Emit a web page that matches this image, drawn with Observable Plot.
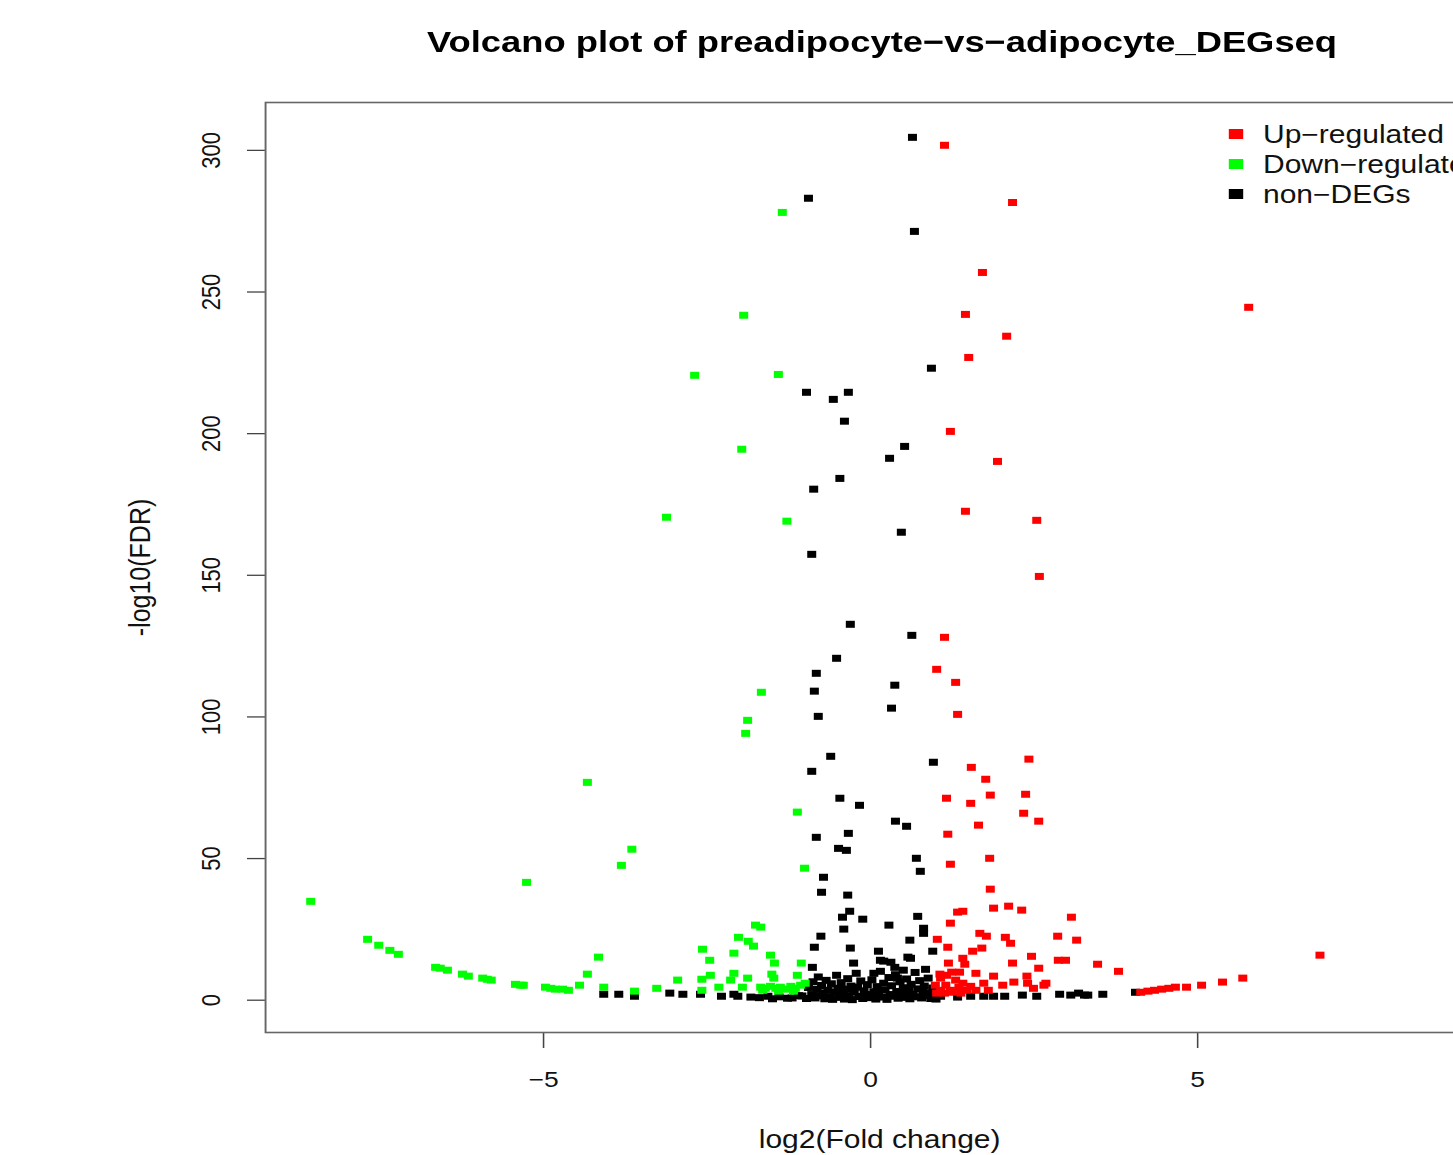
<!DOCTYPE html>
<html>
<head>
<meta charset="utf-8">
<script src="https://cdn.jsdelivr.net/npm/d3@7"></script>
<script src="https://cdn.jsdelivr.net/npm/@observablehq/plot@0.6"></script>
<style>
  html, body { margin: 0; padding: 0; background: #fff; overflow: hidden; width: 1453px; height: 1155px; }
  #wrap { position: relative; width: 1260px; transform: scaleX(1.2); transform-origin: 0 0; font-family: "Liberation Sans", Arial, Helvetica, sans-serif; }
  #title { position: relative; height: 80px; }
  #title span { position: absolute; white-space: nowrap; font-weight: bold; font-size: 30px; line-height: 40px; top: 22px; left: 735px; transform-origin: center; }
  .leg { position: absolute; white-space: nowrap; }
  .leg .sw { position: absolute; width: 11.5px; height: 10.5px; }
  .leg .tx { position: absolute; font-size: 25px; line-height: 30px; }
</style>
</head>
<body>
<div id="wrap">
  <div id="title"><span id="titleText">Volcano plot of preadipocyte−vs−adipocyte_DEGseq</span></div>
  <div id="chart"></div>
  <div id="legend"></div>
</div>
<script>
// ---- data (log2 fold change, -log10 FDR) ----
const upRegulated = [
  [1.13,301.8],[2.17,281.6],[1.71,256.9],[5.78,244.6],[1.45,242.1],[2.08,234.4],[1.50,226.9],
  [1.22,200.8],[1.94,190.2],[1.45,172.6],[2.54,169.4],[2.58,149.6],[1.13,128.1],[1.01,116.8],
  [1.30,112.2],[1.33,100.9],[2.42,85.1],[1.54,82.2],[1.76,78.0],[1.16,71.3],[1.53,69.5],
  [1.83,72.4],[2.37,72.7],[2.34,66.0],[2.57,63.2],[1.65,61.8],[1.18,58.6],[1.82,50.1],
  [1.22,48.0],[1.83,39.2],[1.88,32.5],[2.11,33.2],[2.31,31.8],[1.33,31.1],[1.41,31.4],
  [3.07,29.3],[1.22,27.2],[2.86,22.6],[3.15,21.2],[1.02,21.5],[1.18,18.7],[1.67,23.6],
  [1.77,22.6],[2.06,22.2],[2.14,20.1],[1.56,17.3],[1.70,18.4],[1.41,14.8],[1.44,12.7],
  [1.19,13.1],[1.24,9.9],[1.06,9.2],[1.36,9.9],[1.61,9.5],[1.88,8.5],[2.17,13.1],[2.46,15.5],
  [2.57,11.3],[2.39,8.5],[2.87,14.1],[2.98,14.1],[3.47,12.7],[3.79,10.2],[1.73,6.0],[1.80,3.5],
  [2.02,5.3],[2.19,6.4],[2.40,6.0],[2.49,4.2],[2.65,5.3],[2.68,6.0],
  [1.07,7.8],[1.15,5.3],[1.22,3.5],[1.30,7.1],[1.35,4.6],[1.41,6.0],[1.47,3.5],[1.07,3.5],
  [0.99,5.3],[1.16,8.8],[1.53,4.9],[1.25,2.8],[1.13,2.5],[1.38,2.5],[1.01,2.5],[1.61,3.5],
  [4.13,2.8],[4.24,3.2],[4.34,3.5],[4.45,3.9],[4.56,4.2],[4.66,4.6],[4.83,4.6],[5.06,5.3],
  [5.38,6.4],[5.69,7.8],[6.87,15.9]
];
const downRegulated = [
  [-1.35,278.1],[-1.94,241.8],[-2.69,220.6],[-1.41,220.9],[-1.97,194.5],[-3.12,170.5],
  [-1.28,169.1],[-1.67,108.7],[-1.88,98.8],[-1.91,94.2],[-4.33,76.9],[-1.12,66.4],
  [-3.65,53.3],[-3.81,47.6],[-1.01,46.6],[-5.26,41.6],[-8.56,34.9],[-7.69,21.5],[-7.52,19.4],
  [-7.35,17.6],[-7.22,16.2],[-6.65,11.6],[-6.58,11.3],[-6.47,10.6],[-6.24,9.2],[-6.15,8.5],
  [-5.93,7.8],[-5.86,7.4],[-5.80,7.1],[-5.43,5.6],[-5.35,5.3],[-5.31,5.3],[-4.97,4.6],
  [-4.89,4.2],[-4.82,3.9],[-4.71,3.9],[-4.62,3.5],[-4.45,5.3],[-4.33,9.2],[-4.16,15.2],
  [-4.08,4.6],[-3.61,3.2],[-3.27,4.2],[-2.95,7.1],[-2.57,18.0],[-2.46,14.1],[-2.58,7.4],
  [-2.45,8.8],[-2.58,3.5],[-2.32,4.6],[-2.09,16.6],[-2.02,22.2],[-1.87,20.8],[-1.79,19.1],
  [-1.76,26.5],[-1.68,25.8],[-2.09,9.5],[-2.14,7.1],[-1.88,7.8],[-1.96,4.6],[-1.53,15.9],
  [-1.47,13.1],[-1.51,9.2],[-1.48,7.8],[-1.12,8.8],[-1.06,13.1],
  [-1.68,4.6],[-1.61,4.2],[-1.53,4.9],[-1.45,4.2],[-1.38,4.6],[-1.30,3.9],[-1.22,4.9],
  [-1.15,4.2],[-1.07,5.3],[-1.00,6.0],[-1.65,3.5],[-1.41,3.2],[-1.18,3.2]
];
const nonDEGs = [
  [0.64,304.6],[-0.95,283.1],[0.67,271.4],[0.93,223.1],[-0.98,214.6],[-0.34,214.6],[-0.57,212.1],
  [-0.40,204.4],[0.52,195.5],[0.29,191.3],[-0.47,184.2],[-0.87,180.4],[0.47,165.2],[-0.90,157.4],
  [-0.31,132.7],[0.63,128.8],[-0.52,120.7],[-0.83,115.4],[0.37,111.2],[-0.86,109.1],[0.32,103.1],
  [-0.80,100.2],[-0.61,86.1],[0.96,84.0],[-0.90,80.8],[-0.47,71.3],[-0.17,68.8],[0.38,63.2],
  [0.55,61.4],[-0.83,57.5],[-0.34,58.9],[-0.49,53.6],[-0.37,52.9],[0.70,50.1],[0.76,45.5],
  [-0.72,43.4],[-0.75,38.1],[-0.35,37.1],[-0.43,29.3],[-0.32,31.4],[-0.41,25.1],[-0.12,28.6],
  [0.28,26.5],[0.72,29.6],[0.81,25.4],[0.81,23.6],[0.60,21.2],[-0.89,11.6],[-0.86,18.7],
  [-0.76,22.6],[-0.31,18.4],[-0.26,13.1],[0.12,17.3],[0.15,14.1],[0.20,13.8],[0.31,13.4],
  [0.37,11.6],[0.57,15.2],[0.95,17.3],[0.84,10.9],[0.05,9.5],[0.41,7.8],[0.50,10.6],[0.61,14.8],
  [-4.08,2.1],[-3.85,2.1],[-3.61,1.4],[-3.07,2.5],[-2.87,2.1],[-2.60,2.1],[-2.28,1.4],[-2.09,2.1],
  [-2.03,1.4],[-1.83,1.1],[-1.57,1.4],[-1.27,0.7],[1.07,1.4],[1.33,1.1],[1.53,1.4],[1.73,1.4],
  [1.88,1.4],[2.05,1.4],[2.32,1.8],[2.54,1.4],[2.89,2.1],[3.06,1.8],[3.18,2.5],[3.27,1.8],
  [3.32,1.8],[3.55,2.1],[4.05,2.8],
  [-0.95,4.5],[-0.90,2.0],[-0.88,6.5],[-0.85,0.8],[-0.82,3.8],[-0.80,8.2],[-0.78,1.5],[-0.75,5.2],
  [-0.72,2.6],[-0.70,0.5],[-0.68,7.0],[-0.65,3.5],[-0.62,1.2],[-0.60,5.8],[-0.58,0.3],[-0.55,2.8],
  [-0.52,8.8],[-0.50,4.2],[-0.48,1.0],[-0.45,6.2],[-0.42,2.2],[-0.40,0.4],[-0.38,3.9],[-0.35,7.6],
  [-0.33,1.6],[-0.30,5.0],[-0.28,0.2],[-0.25,2.9],[-0.22,9.5],[-0.20,4.6],[-0.18,1.3],[-0.15,6.8],
  [-0.12,0.6],[-0.10,3.3],[-0.08,2.0],[-0.05,5.5],[-0.03,0.9],[0.00,1.8],[0.02,7.2],[0.05,3.0],
  [0.08,0.4],[0.10,4.8],[0.12,2.4],[0.15,10.2],[0.18,1.1],[0.20,6.0],[0.22,3.6],[0.25,0.3],
  [0.28,8.0],[0.30,2.0],[0.32,5.1],[0.35,1.4],[0.38,9.0],[0.40,3.1],[0.42,0.7],[0.45,6.5],
  [0.48,2.6],[0.50,4.4],[0.52,1.0],[0.55,7.5],[0.58,3.4],[0.60,0.5],[0.62,5.6],[0.65,2.1],
  [0.68,9.8],[0.70,1.2],[0.72,4.0],[0.75,6.9],[0.78,0.8],[0.80,3.0],[0.82,5.0],[0.85,1.6],
  [0.88,7.8],[0.90,2.5],[0.92,0.6],[0.95,4.3],[-1.05,1.5],[-0.98,0.6],[0.98,1.8],[1.00,0.4],
  [-1.70,0.9],[-1.50,0.5],[-1.40,1.2],[-1.20,0.8],[-1.10,1.6]
];
const xTicks = [-5, 0, 5];
const yTicks = [0, 50, 100, 150, 200, 250, 300];
const xLabel = "log2(Fold change)";
const yLabel = "-log10(FDR)";
const legendLabels = ["Up−regulated", "Down−regulated", "non−DEGs"];

// ---- styles ----
const colUp = "#FF0000", colDown = "#00FF00", colNon = "#000000";
const legendColors = [colUp, colDown, colNon];

const squareSym = { draw(ctx) { ctx.moveTo(-3.75, -3.5); ctx.lineTo(3.75, -3.5); ctx.lineTo(3.75, 3.5); ctx.lineTo(-3.75, 3.5); ctx.closePath(); } };

const W = 1260, H = 1075;
const frameLeft = 220.8, frameRight = 1229.2;

const chart = Plot.plot({
  width: W, height: H,
  marginLeft: frameLeft, marginRight: W - frameRight, marginTop: 22, marginBottom: 123,
  x: { domain: [-9.25, 9.25] },
  y: { domain: [-11.4, 316.9] },
  style: { fontFamily: "'Liberation Sans', Arial, Helvetica, sans-serif", fontSize: "22px", color: "#111", background: "white", overflow: "visible" },
  marks: [
    Plot.axisX({ ticks: xTicks, tickSize: 16, tickPadding: 23, label: null, stroke: "#444", strokeWidth: 1.3 }),
    Plot.axisY({ ticks: yTicks, tickSize: 15, tickRotate: -90, tickPadding: 23, label: null, stroke: "#444", strokeWidth: 1.3 }),
    Plot.text([xLabel], { text: d => d, frameAnchor: "bottom", dx: 7.5, dy: 115, fontSize: 25, fill: "#111" }),
    Plot.text([yLabel], { text: d => d, frameAnchor: "left", textAnchor: "middle", dx: -104, rotate: -90, fontSize: 25, fill: "#111" }),
    Plot.dot(nonDEGs, { x: d => d[0], y: d => d[1], symbol: squareSym, fill: colNon, stroke: "none" }),
    Plot.dot(upRegulated, { x: d => d[0], y: d => d[1], symbol: squareSym, fill: colUp, stroke: "none" }),
    Plot.dot(downRegulated, { x: d => d[0], y: d => d[1], symbol: squareSym, fill: colDown, stroke: "none" }),
    Plot.frame({ stroke: "#666", strokeWidth: 1.6 })
  ]
});
chart.setAttribute("style", (chart.getAttribute("style") || "") + ";display:block;");
document.getElementById("chart").appendChild(chart);

// legend (R-style, no box) overlaid at top-right inside the plot region
const legend = document.getElementById("legend");
legendLabels.forEach((lab, i) => {
  const row = document.createElement("div");
  row.className = "leg";
  row.style.left = "0px"; row.style.top = "0px";
  const sw = document.createElement("div");
  sw.className = "sw";
  sw.style.background = legendColors[i];
  sw.style.left = "1024.3px"; sw.style.top = (128.75 + 30 * i) + "px";
  const tx = document.createElement("div");
  tx.className = "tx";
  tx.textContent = lab;
  tx.style.left = "1052.5px"; tx.style.top = (119 + 30 * i) + "px";
  tx.style.color = "#111";
  row.appendChild(sw); row.appendChild(tx);
  legend.appendChild(row);
});

// fit title width to the reference extent
const t = document.getElementById("titleText");
const w = t.getBoundingClientRect().width; // page px (includes wrap scale)
const k = 910 / w;
t.style.transform = "translateX(-50%) scaleX(" + k + ")";
</script>
</body>
</html>
